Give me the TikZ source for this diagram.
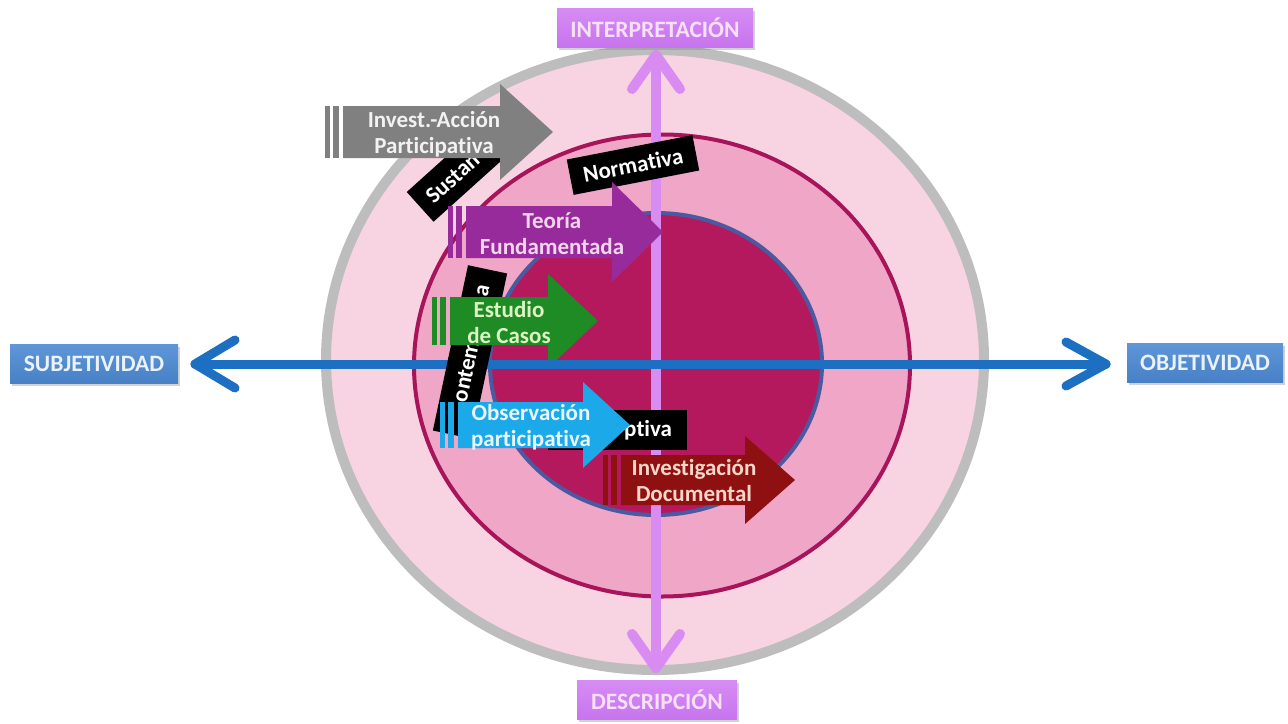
\documentclass[tikz,border=0pt]{standalone}
\usepackage{fontspec}
\setmainfont{Carlito}[Ligatures=NoCommon]
\usetikzlibrary{calc,shadows}
\definecolor{ringgrey}{HTML}{BDBDBD}
\definecolor{outerpink}{HTML}{F8D3E1}
\definecolor{midpink}{HTML}{EFA6C7}
\definecolor{midborder}{HTML}{A8145A}
\definecolor{innerfill}{HTML}{B3195C}
\definecolor{innerborder}{HTML}{4B5AA0}
\definecolor{axviolet}{HTML}{D88CF2}
\definecolor{axblue}{HTML}{1D6FC1}
\definecolor{labblueT}{HTML}{5E96D8}
\definecolor{labblueB}{HTML}{4880C6}
\definecolor{labbluetext}{HTML}{EAF2FB}
\definecolor{lavT}{HTML}{D68CF4}
\definecolor{lavB}{HTML}{C774EE}
\definecolor{lavtext}{HTML}{F7E0F8}
\definecolor{arrgrey}{HTML}{808080}
\definecolor{arrgreytext}{HTML}{F2F2F2}
\definecolor{arrpurple}{HTML}{982B9C}
\definecolor{arrpurpletext}{HTML}{F4D4EF}
\definecolor{arrgreen}{HTML}{1F8B24}
\definecolor{arrgreentext}{HTML}{DDF4C4}
\definecolor{arrcyan}{HTML}{1CA9E9}
\definecolor{arrcyantext}{HTML}{E8F6FF}
\definecolor{arrred}{HTML}{8E1010}
\definecolor{arrredtext}{HTML}{F7D6CA}
\newcommand\striparrow[7]{%
  \fill[#1] (#2,#3-#4) rectangle (#2+5,#3+#4);
  \fill[#1] (#2+8,#3-#4) rectangle (#2+14,#3+#4);
  \fill[#1] (#2+18,#3-#4) -- (#5,#3-#4) -- (#5,#3-#7) -- (#6,#3) -- (#5,#3+#7) -- (#5,#3+#4) -- (#2+18,#3+#4) -- cycle;}
\tikzset{
  lab/.style={minimum height=39pt, inner sep=0pt, font=\bfseries\fontsize{23.5}{27}\selectfont,
    drop shadow={opacity=0.35, shadow xshift=1.5pt, shadow yshift=-2.5pt}},
  bluelab/.style={lab, top color=labblueT, bottom color=labblueB, text=labbluetext},
  lavlab/.style={lab, top color=lavT, bottom color=lavB, text=lavtext},
  vax/.style={draw=axviolet, line width=10pt, line cap=round, line join=round},
  hax/.style={draw=axblue, line width=9pt, line cap=round, line join=round},
  blk/.style={fill=black, inner sep=0pt, minimum height=40pt},
  blktext/.style={text=white, inner sep=0pt, font=\bfseries\fontsize{23}{26}\selectfont},
  atext/.style={align=center, inner sep=0pt, font=\bfseries\fontsize{23}{26}\selectfont},
}
\begin{document}
\begin{tikzpicture}[x=1pt,y=-1pt]
\useasboundingbox (0,0) rectangle (1288,723);
\fill[white] (0,0) rectangle (1288,723);
% circles
\draw[line width=10pt, draw=ringgrey, fill=outerpink] (655,360) ellipse [x radius=329, y radius=310];
\draw[line width=4pt, draw=midborder, fill=midpink] (662,365.5) ellipse [x radius=248, y radius=231];
\draw[line width=4pt, draw=innerborder, fill=innerfill] (656,364) ellipse [x radius=166, y radius=151];
% labels
\node[bluelab, minimum width=168pt] (subj) at (94,364) {SUBJETIVIDAD};
\node[bluelab, minimum width=156pt] (obj) at (1205,363) {OBJETIVIDAD};
\node[lavlab, minimum width=196pt] (interp) at (655,27.5) {INTERPRETACIÓN};
\node[lavlab, minimum width=160pt] (desc) at (657,700) {DESCRIPCIÓN};
% axes
\coordinate (vtop) at (656,55);
\coordinate (vbot) at (656,668);
\coordinate (hleft) at (195,364);
\coordinate (hright) at (1106,364);
\draw[vax] (vtop) -- (vbot);
\draw[vax] ($(vtop)+(-24,34)$) -- (vtop) -- ($(vtop)+(24,34)$);
\draw[vax] ($(vbot)+(-24,-34)$) -- (vbot) -- ($(vbot)+(24,-34)$);
\draw[hax] (hleft) -- (hright);
\draw[hax] ($(hleft)+(40,-24)$) -- (hleft) -- ($(hleft)+(40,24)$);
\draw[hax] ($(hright)+(-40,-22)$) -- (hright) -- ($(hright)+(-40,22)$);
% black boxes (partly hidden by the arrows; only visible letters are set)
\node[blk, rotate=42, minimum width=130pt, anchor=west] (sust) at (420,207) {};
\node[blktext, rotate=42, anchor=west] (sustt) at ($(sust.west)!0.09!(sust.east)$) {Sustan};
\node[blk, rotate=11, minimum width=128pt, minimum height=36pt] (norm) at (633,165) {};
\node[blktext, rotate=11] (normt) at (norm.center) {Normativa};
\node[blk, rotate=78, minimum width=169pt] (cont) at (470,352) {};
\node[blktext, rotate=78, anchor=west] (contt) at ($(cont.west)!0.2!(cont.east)$) {ontem};
\node[blktext, rotate=78] (conta) at ($(cont.west)!0.87!(cont.east)$) {a};
\node[blk, minimum width=139pt] (descr) at (617.5,430) {};
\node[blktext, anchor=east] (descrt) at ($(descr.east)+(-15,0)$) {ptiva};
% striped arrows
\striparrow{arrgrey}{325}{132}{26}{500}{553}{48}
\node[atext, text=arrgreytext] (iap) at (434,134) {Invest.-Acción\\Participativa};
\striparrow{arrpurple}{448}{232}{26}{612}{663}{50}
\node[atext, text=arrpurpletext] (tf) at (552,234) {Teoría\\Fundamentada};
\striparrow{arrgreen}{432}{321}{24}{548}{598}{47}
\node[atext, text=arrgreentext] (ec) at (509,323) {Estudio\\de Casos};
\striparrow{arrcyan}{440}{425}{23}{583}{630}{43}
\node[atext, text=arrcyantext] (op) at (531,427) {Observación\\participativa};
\striparrow{arrred}{603}{480}{25}{745}{795}{44}
\node[atext, text=arrredtext] (id) at (694,481) {Investigación\\Documental};
% horizontal axis passes over the green arrow head
\begin{scope}
\clip (541,330) rectangle (605,400);
\draw[hax] (hleft) -- (hright);
\end{scope}
\end{tikzpicture}
\end{document}
